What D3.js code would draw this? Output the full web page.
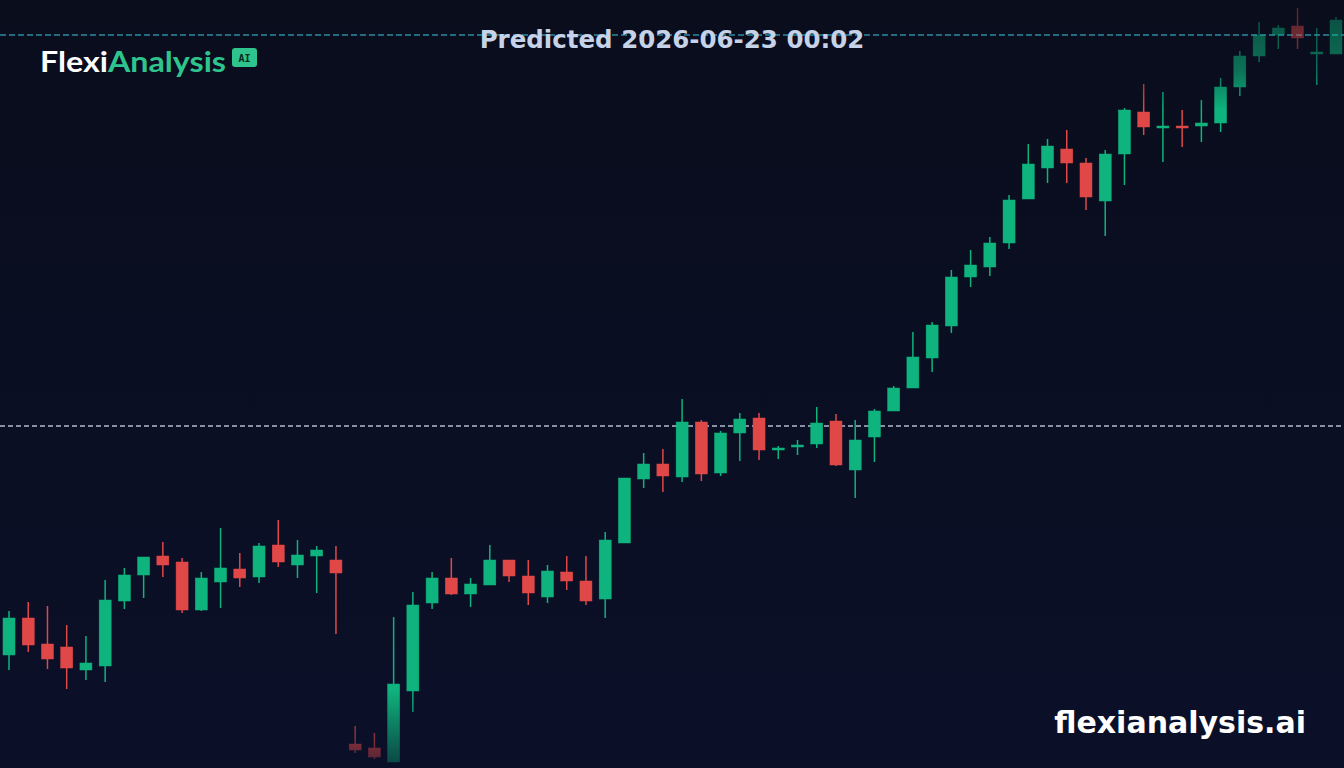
<!DOCTYPE html>
<html><head><meta charset="utf-8">
<script src="https://cdn.jsdelivr.net/npm/d3@7"></script>
<style>html,body{margin:0;padding:0;background:#0a0e1e;overflow:hidden}</style>
</head><body>
<svg id="c" width="1344" height="768"></svg>
<script>
// OHLC (price units = height from chart bottom)
const opens  = [113,150,124,121,98,102,167,193,212,206,158,186,199,191,223,203,212,208,24,20,6,77,165,190,174,183,208,192,171,196,187,169,225,289,304,291,346,295,335,350,318,321,324,347,298,331,357,380,410,442,491,501,525,569,600,619,605,567,614,656,641,642,642,645,681,712,733,742,714,714];
const closes = [150,123,109,100,105,168,193,211,203,158,190,200,190,222,206,213,218,195,18,11,84,163,190,174,184,208,192,175,197,187,167,228,290,304,292,346,294,335,349,318,320,323,345,303,328,357,380,411,443,491,503,525,568,604,622,605,571,614,658,641,642,641,645,681,712,733,740,730,716,748];
const highs  = [157,166,162,143,132,188,200,211,226,210,196,240,215,225,248,228,222,222,42,35,151,176,196,210,190,223,208,208,203,212,212,236,290,315,319,369,348,337,355,355,322,328,361,354,348,359,382,436,446,498,518,531,573,624,629,638,610,618,660,684,676,658,668,690,717,746,743,760,740,751];
const lows   = [98,116,99,79,88,86,159,170,191,155,157,160,181,185,201,190,175,134,15,9,6,56,159,173,161,183,186,163,165,178,163,150,225,280,276,286,287,292,307,308,309,313,320,302,270,306,357,380,396,435,481,492,519,569,585,585,558,532,583,633,606,621,626,636,672,706,719,719,683,714];
const title = "Predicted 2026-06-23 00:02";

const W=1344,H=768;
const svg=d3.select("#c");
const defs=svg.append("defs");
const bg=defs.append("linearGradient").attr("id","bg").attr("x1",0).attr("y1",0).attr("x2",0).attr("y2",1);
bg.append("stop").attr("offset","0%").attr("stop-color","#090d1c");
bg.append("stop").attr("offset","100%").attr("stop-color","#0b1029");
svg.append("rect").attr("width",W).attr("height",H).attr("fill","url(#bg)");

const fade=defs.append("linearGradient").attr("id","fade").attr("x1",0).attr("x2",0).attr("gradientUnits","userSpaceOnUse").attr("y1",0).attr("y2",H);
[[0,0.35],[70/H,0.6],[110/H,1],[690/H,1],[1,0.3]].forEach(([o,a])=>fade.append("stop").attr("offset",o).attr("stop-color","#fff").attr("stop-opacity",a));
defs.append("mask").attr("id","m").attr("maskUnits","userSpaceOnUse").append("rect").attr("width",W).attr("height",H).attr("fill","url(#fade)");

const x=d3.scaleLinear().domain([0,opens.length-1]).range([9,1336]);
const y=d3.scaleLinear().domain([0,768]).range([768,0]);
const data=opens.map((o,i)=>({i,o,c:closes[i],h:highs[i],l:lows[i]}));

svg.append("line").attr("x1",0).attr("x2",W).attr("y1",426).attr("y2",426)
  .attr("stroke","#b4bccf").attr("stroke-width",1.3).attr("stroke-dasharray","5,3");
svg.append("line").attr("x1",0).attr("x2",W).attr("y1",35).attr("y2",35)
  .attr("stroke","#2b8aa3").attr("stroke-width",1.5).attr("stroke-dasharray","6,3");

const g=svg.append("g").attr("mask","url(#m)");
const col=d=>d.c>=d.o?"#0fb37d":"#e04848";
const cg=g.selectAll("g.k").data(data).join("g");
cg.append("line").attr("x1",d=>x(d.i)).attr("x2",d=>x(d.i)).attr("y1",d=>y(d.h)).attr("y2",d=>y(d.l)).attr("stroke",col).attr("stroke-width",1.5);
cg.append("rect").attr("x",d=>x(d.i)-6).attr("width",12)
  .attr("y",d=>y(Math.max(d.o,d.c))).attr("height",d=>Math.max(2,Math.abs(y(d.o)-y(d.c))))
  .attr("fill",col).attr("stroke",col).attr("stroke-width",0.5);

svg.append("text").attr("x",672).attr("y",48).attr("text-anchor","middle")
  .attr("font-family","DejaVu Sans").attr("font-weight","bold").attr("font-size",24.5).attr("fill","#c5d2e8").text(title);

const lg=svg.append("text").attr("x",40).attr("y",72).attr("font-family","Lato, 'Noto Sans'").attr("font-weight","bold").attr("font-size",29)
  .attr("textLength",186).attr("lengthAdjust","spacingAndGlyphs");
lg.append("tspan").attr("fill","#ffffff").text("Flexi");
lg.append("tspan").attr("fill","#2fc48d").text("Analysis");
svg.append("rect").attr("x",232).attr("y",48).attr("width",25).attr("height",19).attr("rx",3).attr("fill","#2fc48d");
svg.append("text").attr("x",244.5).attr("y",62).attr("text-anchor","middle").attr("font-family","DejaVu Sans Mono").attr("font-weight","bold").attr("font-size",10).attr("fill","#0a2a20").text("AI");

svg.append("text").attr("x",1306).attr("y",733).attr("text-anchor","end")
  .attr("font-family","DejaVu Sans").attr("font-weight","bold").attr("font-size",30).attr("fill","#ffffff").text("flexianalysis.ai");
</script>
</body></html>
